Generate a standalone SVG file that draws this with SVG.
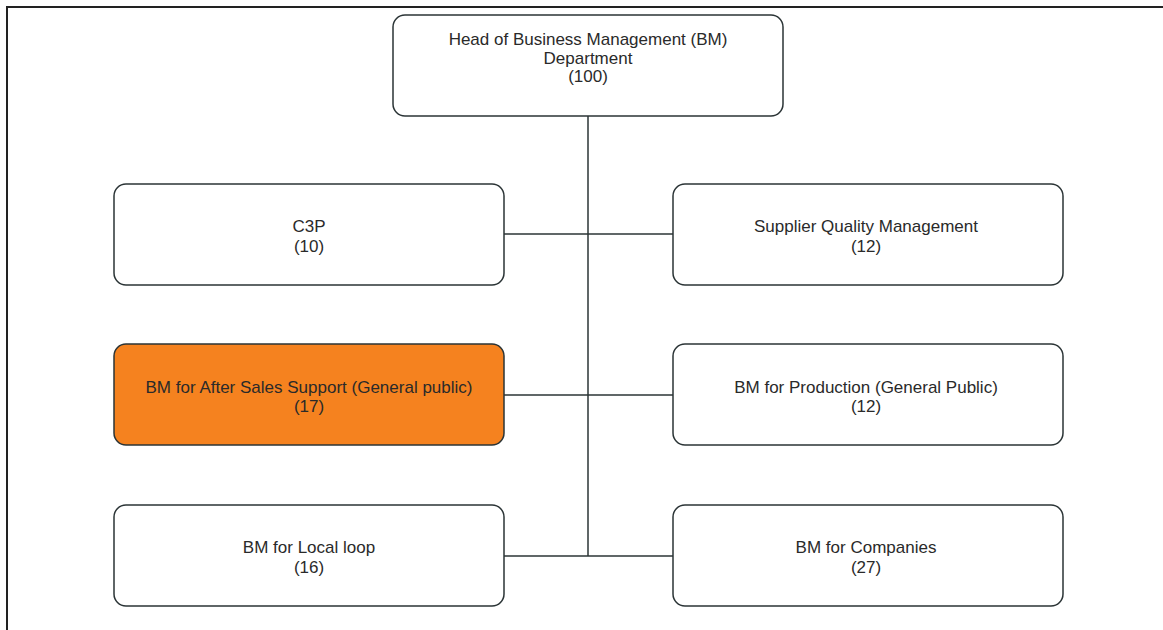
<svg xmlns="http://www.w3.org/2000/svg" width="1163" height="630" viewBox="0 0 1163 630">
<style>
.box{fill:#ffffff;stroke:#2b3436;stroke-width:1.5}
.hl{fill:#F5821F}
.t{font-family:"Liberation Sans",Arial,sans-serif;font-size:17px;fill:#2a2a2a;text-anchor:middle}
.c{stroke:#2b3436;stroke-width:1.5;fill:none}
</style>
<rect width="1163" height="630" fill="#ffffff"/>
<path d="M7 630 V7 H1163" fill="none" stroke="#222" stroke-width="2"/>
<g id="connectors">
<path class="c" d="M588 116 V556"/>
<path class="c" d="M504 234 H673"/>
<path class="c" d="M504 395 H673"/>
<path class="c" d="M504 556 H673"/>
</g>
<g id="head">
<rect class="box" x="393" y="15" width="390" height="101" rx="12"/>
<text class="t" x="588" y="45">Head of Business Management (BM)</text>
<text class="t" x="588" y="64">Department</text>
<text class="t" x="588" y="82">(100)</text>
</g>
<g id="c3p">
<rect class="box" x="114" y="184" width="390" height="101" rx="12"/>
<text class="t" x="309" y="232">C3P</text>
<text class="t" x="309" y="252">(10)</text>
</g>
<g id="sqm">
<rect class="box" x="673" y="184" width="390" height="101" rx="12"/>
<text class="t" x="866" y="232">Supplier Quality Management</text>
<text class="t" x="866" y="252">(12)</text>
</g>
<g id="after-sales">
<rect class="box hl" x="114" y="344" width="390" height="101" rx="12"/>
<text class="t" x="309" y="393">BM for After Sales Support (General public)</text>
<text class="t" x="309" y="412">(17)</text>
</g>
<g id="production">
<rect class="box" x="673" y="344" width="390" height="101" rx="12"/>
<text class="t" x="866" y="393">BM for Production (General Public)</text>
<text class="t" x="866" y="412">(12)</text>
</g>
<g id="local-loop">
<rect class="box" x="114" y="505" width="390" height="101" rx="12"/>
<text class="t" x="309" y="553">BM for Local loop</text>
<text class="t" x="309" y="573">(16)</text>
</g>
<g id="companies">
<rect class="box" x="673" y="505" width="390" height="101" rx="12"/>
<text class="t" x="866" y="553">BM for Companies</text>
<text class="t" x="866" y="573">(27)</text>
</g>
</svg>
